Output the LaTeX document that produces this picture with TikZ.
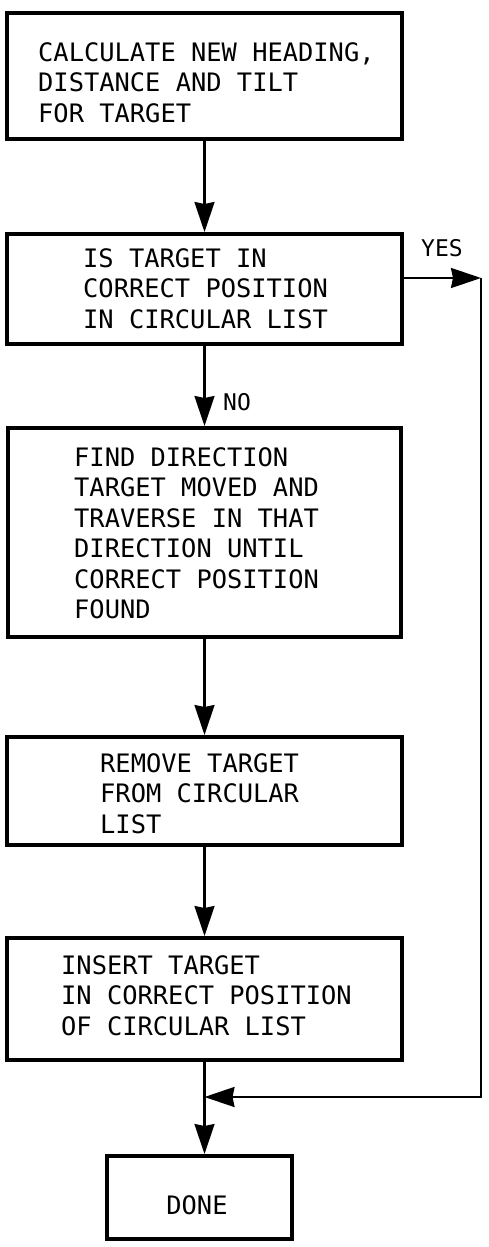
\documentclass[tikz,border=0pt]{standalone}
\usepackage{fontspec}
\setmonofont{DejaVu Sans Mono}
\usetikzlibrary{arrows.meta}

\tikzset{
  box/.style={draw, line width=4pt, rectangle, inner sep=0pt},
  boxtext/.style={anchor=north west, inner sep=0pt, align=left,
    font=\ttfamily\fontsize{25.4}{30.5}\selectfont},
  lbl/.style={inner sep=0pt, font=\ttfamily\fontsize{23}{28}\selectfont},
  flow/.style={line width=2.2pt, -{Stealth[length=30pt, width=20pt, inset=2pt]}},
  wire/.style={line width=2.2pt}
}

\begin{document}
\begin{tikzpicture}[x=1pt, y=-1pt]
  \path[use as bounding box, fill=white] (0,0) rectangle (489,1247);

  % process boxes, all on one vertical spine
  \node[box, minimum width=395pt, minimum height=126pt] (b1) at (204.5,76) {};
  \node[box, minimum width=395pt, minimum height=110pt] (b2) at (204.5,289) {};
  \node[box, minimum width=393pt, minimum height=209pt] (b3) at (204.5,532.5) {};
  \node[box, minimum width=395pt, minimum height=108pt] (b4) at (204.5,791) {};
  \node[box, minimum width=395pt, minimum height=122pt] (b5) at (204.5,999) {};
  \node[box, minimum width=185pt, minimum height=83pt] (done) at (199.5,1197.5) {};

  % box texts
  \node[boxtext] (t1) at (38,42) {CALCULATE NEW HEADING,\\DISTANCE AND TILT\\FOR TARGET};
  \node[boxtext] (t2) at (83,248) {IS TARGET IN\\CORRECT POSITION\\IN CIRCULAR LIST};
  \node[boxtext] (t3) at (74,447) {FIND DIRECTION\\TARGET MOVED AND\\TRAVERSE IN THAT\\DIRECTION UNTIL\\CORRECT POSITION\\FOUND};
  \node[boxtext] (t4) at (100,753) {REMOVE TARGET\\FROM CIRCULAR\\LIST};
  \node[boxtext] (t5) at (61,955) {INSERT TARGET\\IN CORRECT POSITION\\OF CIRCULAR LIST};
  \node[boxtext, anchor=center] (t6) at (197,1205) {DONE};

  % branch labels
  \node[lbl, anchor=west] (no) at (223,402) {NO};
  \node[lbl, anchor=west] (yes) at (421,248) {YES};

  % helper points for the bypass route
  \coordinate (yc) at (481,278);
  \coordinate (join) at (204.5,1097);

  % main flow
  \draw[flow] (b1.south) -- (b2.north);
  \draw[flow] (b2.south) -- (b3.north);
  \draw[flow] (b3.south) -- (b4.north);
  \draw[flow] (b4.south) -- (b5.north);
  \draw[wire] (b5.south) -- (join);
  \draw[flow] (join) -- (join |- done.north);

  % YES bypass
  \draw[flow] (b2.east |- yc) -- (yc);
  \draw[flow] (yc) |- (join);
\end{tikzpicture}
\end{document}
